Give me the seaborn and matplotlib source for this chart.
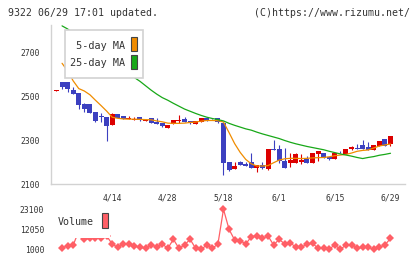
import numpy as np
import matplotlib
matplotlib.use("Agg")
import matplotlib.pyplot as plt
from matplotlib.patches import Rectangle
import seaborn as sns

# ---------------- data ----------------
dates = ["4/14", "4/28", "5/18", "6/1", "6/15", "6/29"]
date_idx = [10, 20, 30, 40, 50, 60]

opens = [2525, 2565, 2565, 2529, 2516, 2465, 2465, 2429, 2412, 2406,
         2371, 2419, 2410, 2398, 2394, 2406, 2389, 2401, 2385, 2380,
         2357, 2375, 2388, 2397, 2388, 2374, 2385, 2401, 2393, 2401,
         2378, 2201, 2170, 2201, 2194, 2201, 2174, 2187, 2169, 2262,
         2260, 2206, 2198, 2198, 2201, 2215, 2197, 2238, 2242, 2224,
         2215, 2243, 2238, 2260, 2261, 2278, 2269, 2256, 2274, 2305,
         2283]
closes = [2528, 2544, 2535, 2512, 2462, 2441, 2425, 2388, 2406, 2366,
          2421, 2402, 2398, 2403, 2398, 2392, 2394, 2380, 2374, 2366,
          2371, 2392, 2390, 2383, 2378, 2388, 2401, 2389, 2390, 2383,
          2198, 2165, 2183, 2187, 2185, 2174, 2187, 2174, 2260, 2258,
          2206, 2176, 2210, 2238, 2210, 2197, 2242, 2251, 2219, 2215,
          2242, 2240, 2260, 2269, 2259, 2260, 2256, 2278, 2296, 2274,
          2319]
highs = [2528, 2565, 2565, 2541, 2516, 2471, 2465, 2429, 2422, 2406,
         2425, 2419, 2410, 2410, 2406, 2406, 2398, 2401, 2401, 2380,
         2371, 2392, 2415, 2406, 2388, 2388, 2401, 2401, 2397, 2401,
         2378, 2201, 2201, 2206, 2201, 2242, 2187, 2201, 2260, 2301,
         2278, 2265, 2242, 2242, 2238, 2229, 2242, 2251, 2242, 2224,
         2242, 2251, 2260, 2274, 2283, 2301, 2292, 2278, 2296, 2305,
         2319]
lows = [2525, 2534, 2521, 2512, 2444, 2428, 2425, 2383, 2384, 2298,
        2371, 2402, 2398, 2398, 2394, 2386, 2389, 2380, 2374, 2362,
        2357, 2375, 2377, 2383, 2375, 2374, 2385, 2389, 2390, 2378,
        2144, 2160, 2170, 2187, 2185, 2174, 2156, 2169, 2165, 2258,
        2197, 2176, 2180, 2198, 2190, 2197, 2197, 2206, 2219, 2210,
        2215, 2240, 2238, 2256, 2259, 2260, 2256, 2256, 2274, 2274,
        2274]

ma_idx = list(range(1, 61))
ma5 = [2650, 2615, 2570, 2535, 2524, 2507, 2482, 2458, 2433, 2405,
       2400, 2397, 2396, 2396, 2395, 2394, 2393, 2388, 2384, 2378,
       2377, 2377, 2378, 2381, 2383, 2387, 2390, 2390, 2389, 2383,
       2335, 2285, 2245, 2213, 2193, 2183, 2183, 2185, 2198, 2210,
       2216, 2218, 2218, 2217, 2218, 2220, 2221, 2222, 2225, 2230,
       2233, 2236, 2242, 2250, 2254, 2256, 2265, 2274, 2279, 2283]
ma25 = [2820, 2806, 2787, 2769, 2750, 2732, 2713, 2695, 2676, 2658,
        2639, 2621, 2603, 2585, 2568, 2548, 2528, 2510, 2494, 2482,
        2468, 2455, 2442, 2432, 2422, 2413, 2405, 2399, 2394, 2388,
        2377, 2368, 2360, 2352, 2346, 2337, 2329, 2322, 2315, 2308,
        2299, 2291, 2284, 2278, 2272, 2267, 2262, 2257, 2250, 2244,
        2238, 2233, 2228, 2222, 2217, 2222, 2226, 2232, 2236, 2241]

volume = [1900, 2820, 3380, 11000, 6500, 7000, 7400, 7400, 8400, 3930,
          2090, 3930, 3930, 2820, 2090, 1530, 3380, 2460, 3930, 1530,
          6510, 1530, 3380, 6510, 1530, 1000, 3380, 1530, 3930, 23100,
          12030, 6140, 5770, 3930, 7980, 8530, 7060, 8350, 3380, 6510,
          3930, 4670, 2090, 2090, 3930, 4300, 1530, 1530, 1170, 3380,
          1000, 3380, 3380, 1530, 2090, 2090, 1000, 2090, 3380, 7060]

ma_labels = [" 5-day MA", "25-day MA"]
vol_label = "Volume"
price_ticks = [2100, 2300, 2500, 2700]
vol_ticks = [1000, 12050, 23100]
title_text = "9322 06/29 17:01 updated."
credit_text = "(C)https://www.rizumu.net/"

# ---------------- style ----------------
sns.set_style("white")
plt.rcParams['font.family'] = ['DejaVu Sans Mono', 'DejaVu Sans']

RED = "#dc0000"
BLUE = "#3c40c0"
ORANGE = "#f08c00"
GREEN = "#18a818"
VOLC = "#ff5f66"
GRID = "#d2d2d2"
TXT = "#333333"

W, H = 420, 259
fig = plt.figure(figsize=(W / 100, H / 100), dpi=100)


def fx(x):
    return x / W


def fy(y):
    return 1 - y / H


XL, XR = 50.7, 405.3
xlim = (-1.04, 62.66)

ax = fig.add_axes([fx(XL), fy(184.3), (XR - XL) / W, (184.3 - 25) / H])
axv = fig.add_axes([fx(XL), fy(253), (XR - XL) / W, 48 / H])

# ---------------- candles ----------------
idx = np.arange(len(opens))
o = np.array(opens, float)
c = np.array(closes, float)
up = c >= o
cols = np.where(up, RED, BLUE)
ax.vlines(idx, lows, highs, colors=cols, lw=0.8, zorder=2)
body_lo = np.minimum(o, c)
body_h = np.maximum(np.abs(c - o), 4.5)
ax.bar(idx, body_h, bottom=body_lo, width=0.9, color=cols, lw=0, zorder=3)

# moving averages
sns.lineplot(x=ma_idx, y=ma5, ax=ax, color=ORANGE, lw=0.9, zorder=4)
sns.lineplot(x=ma_idx, y=ma25, ax=ax, color=GREEN, lw=0.9, zorder=4)

ax.set_xlim(*xlim)
ax.set_ylim(2100, 2824)
for s in ["top", "right"]:
    ax.spines[s].set_visible(False)
for s in ["left", "bottom"]:
    ax.spines[s].set_color(GRID)
    ax.spines[s].set_linewidth(1.0)
ax.set_yticks(price_ticks)
ax.set_yticklabels([str(t) for t in price_ticks])
ax.tick_params(axis='y', direction='inout', length=7.2, width=1.0, color=GRID,
               labelsize=5.8, labelcolor=TXT, pad=4)
ax.set_xticks(date_idx)
ax.set_xticklabels(dates)
ax.tick_params(axis='x', which='major', length=0, pad=6.5, labelsize=5.8,
               labelcolor=TXT)
ax.set_xticks(np.linspace(xlim[0], xlim[1], 12), minor=True)
ax.tick_params(axis='x', which='minor', direction='inout', length=5.3,
               width=1.0, color=GRID)
ax.set_xlabel("")
ax.set_ylabel("")

# ---------------- volume ----------------
sns.lineplot(x=ma_idx, y=volume, ax=axv, color=VOLC, lw=0.9, marker='D',
             markersize=4.0, markeredgewidth=0, clip_on=False)
axv.set_xlim(*xlim)
axv.set_ylim(-1044, 25476)
for s in axv.spines.values():
    s.set_visible(False)
axv.set_xticks([])
axv.set_yticks(vol_ticks)
axv.set_yticklabels([str(t) for t in vol_ticks])
axv.tick_params(axis='y', length=0, labelsize=5.8, labelcolor=TXT, pad=4.6)
axv.set_xlabel("")
axv.set_ylabel("")

# ---------------- legends ----------------
fig.add_artist(Rectangle((fx(65), fy(77.7)), 78 / W, 47.7 / H,
                         transform=fig.transFigure, facecolor="white",
                         edgecolor=GRID, lw=1.2, zorder=5))
for lab, col, ty, by in [(ma_labels[0], ORANGE, 46, 51), (ma_labels[1], GREEN, 63.3, 68.5)]:
    fig.text(fx(125.5), fy(ty), lab, ha='right', va='center', fontsize=7.3,
             color=TXT, zorder=6)
    fig.add_artist(Rectangle((fx(131), fy(by)), 6.3 / W, 14 / H,
                             transform=fig.transFigure, facecolor=col,
                             edgecolor="#444444", lw=0.8, zorder=6))

fig.add_artist(Rectangle((fx(52), fy(238)), 58 / W, 32 / H,
                         transform=fig.transFigure, facecolor="white",
                         edgecolor="none", zorder=5))
fig.text(fx(58), fy(221.7), vol_label, ha='left', va='center', fontsize=7.2,
         color=TXT, zorder=6)
fig.add_artist(Rectangle((fx(101.7), fy(228.3)), 5.8 / W, 15 / H,
                         transform=fig.transFigure, facecolor=VOLC,
                         edgecolor="#444444", lw=0.8, zorder=6))

# ---------------- header ----------------
fig.text(fx(8.3), fy(13), title_text, ha='left', va='center', fontsize=7.1,
         color=TXT)
fig.text(fx(410.5), fy(13), credit_text, ha='right', va='center', fontsize=7.1,
         color=TXT)

fig.savefig("out.png", dpi=100, facecolor="white")
